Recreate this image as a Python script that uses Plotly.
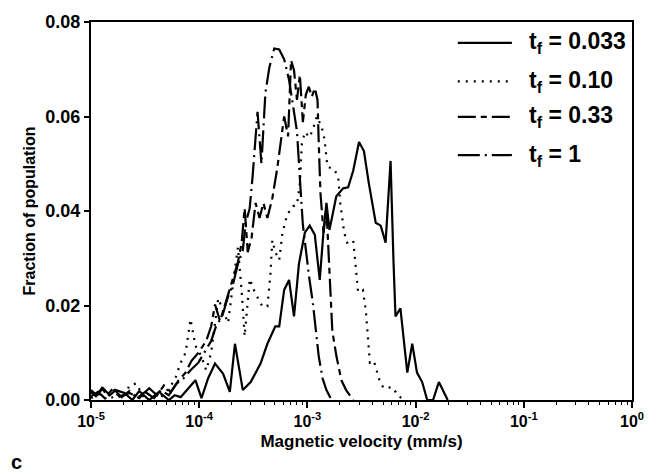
import plotly.graph_objects as go

# ---- data (velocity in mm/s, fraction of population) ----
v_033 = [1.00e-5, 1.13e-5, 1.29e-5, 1.49e-5, 1.69e-5, 2.04e-5, 2.41e-5, 2.79e-5, 3.45e-5, 4.25e-5,
         5.24e-5, 5.94e-5, 6.74e-5, 7.97e-5, 9.23e-5, 1.05e-4, 1.21e-4, 1.40e-4, 1.66e-4, 1.92e-4,
         2.14e-4, 2.53e-4, 2.99e-4, 3.69e-4, 4.27e-4, 5.05e-4, 5.49e-4, 6.10e-4, 6.77e-4, 7.52e-4,
         8.35e-4, 9.47e-4, 1.05e-3, 1.17e-3, 1.30e-3, 1.41e-3, 1.50e-3, 1.60e-3, 1.85e-3, 2.14e-3,
         2.38e-3, 2.65e-3, 3.00e-3, 3.33e-3, 3.70e-3, 4.28e-3, 4.76e-3, 5.28e-3, 5.87e-3, 6.25e-3,
         6.52e-3, 7.24e-3, 8.38e-3, 9.31e-3, 1.03e-2, 1.15e-2, 1.28e-2, 1.45e-2, 1.64e-2, 1.98e-2]
f_033 = [0.0021, 0.0010, 0.0025, 0.0010, 0.0021, 0.0015, 0.0, 0.0019, 0.0, 0.0017,
         0.0, 0.0010, 0.0006, 0.0025, 0.0042, 0.0004, 0.0046, 0.0077, 0.0056, 0.0017,
         0.0119, 0.0021, 0.0038, 0.0077, 0.0119, 0.0156, 0.0156, 0.0233, 0.0254, 0.0177,
         0.0288, 0.0354, 0.0369, 0.0350, 0.0254, 0.0358, 0.0417, 0.0360, 0.0431, 0.0448,
         0.0450, 0.0485, 0.0546, 0.0527, 0.0458, 0.0375, 0.0369, 0.0333, 0.0506, 0.0292,
         0.0177, 0.0194, 0.0058, 0.0119, 0.0058, 0.0038, 0.0, 0.0, 0.0038, 0.0]

v_010 = [1.00e-5, 1.21e-5, 1.43e-5, 1.69e-5, 2.00e-5, 2.27e-5, 2.62e-5, 3.10e-5, 3.67e-5, 4.43e-5,
         5.24e-5, 5.94e-5, 6.74e-5, 7.49e-5, 8.31e-5, 9.23e-5, 1.05e-4, 1.16e-4, 1.29e-4, 1.50e-4,
         1.63e-4, 1.85e-4, 2.09e-4, 2.28e-4, 2.47e-4, 2.63e-4, 2.81e-4, 2.93e-4, 3.25e-4, 3.84e-4,
         4.27e-4, 4.55e-4, 4.74e-4, 5.05e-4, 5.49e-4, 5.85e-4, 6.49e-4, 7.36e-4, 8.01e-4, 8.52e-4,
         8.89e-4, 9.47e-4, 1.05e-3, 1.14e-3, 1.22e-3, 1.35e-3, 1.44e-3, 1.53e-3, 1.78e-3, 1.93e-3,
         2.01e-3, 2.10e-3, 2.19e-3, 2.33e-3, 2.65e-3, 2.76e-3, 2.94e-3, 3.26e-3, 3.47e-3, 3.62e-3,
         3.78e-3, 4.11e-3, 4.38e-3, 4.66e-3, 5.07e-3, 6.12e-3, 6.94e-3, 8.04e-3]
f_010 = [0.0004, 0.0013, 0.0, 0.0010, 0.0004, 0.0031, 0.0035, 0.0004, 0.0017, 0.0006,
         0.0025, 0.0042, 0.0079, 0.0100, 0.0171, 0.0115, 0.0092, 0.0063, 0.0100, 0.0215,
         0.0194, 0.0163, 0.0260, 0.0323, 0.0229, 0.0135, 0.0208, 0.0256, 0.0229, 0.0198,
         0.0198, 0.0265, 0.0338, 0.0313, 0.0296, 0.0350, 0.0392, 0.0410, 0.0413, 0.0458,
         0.0542, 0.0567, 0.0556, 0.0577, 0.0600, 0.0579, 0.0552, 0.0494, 0.0488, 0.0469,
         0.0417, 0.0385, 0.0354, 0.0333, 0.0338, 0.0296, 0.0229, 0.0233, 0.0188, 0.0135,
         0.0079, 0.0083, 0.0058, 0.0040, 0.0025, 0.0027, 0.0008, 0.0]

v_033b = [1.00e-5, 1.16e-5, 1.34e-5, 1.55e-5, 1.84e-5, 2.27e-5, 2.79e-5, 3.45e-5, 4.08e-5, 4.72e-5,
          5.47e-5, 6.47e-5, 7.49e-5, 8.49e-5, 9.83e-5, 1.16e-4, 1.29e-4, 1.40e-4, 1.56e-4, 1.85e-4,
          2.09e-4, 2.28e-4, 2.47e-4, 2.63e-4, 2.81e-4, 3.05e-4, 3.32e-4, 3.61e-4, 3.92e-4, 4.27e-4,
          4.74e-4, 5.26e-4, 6.10e-4, 6.63e-4, 7.06e-4, 7.52e-4, 8.01e-4, 8.52e-4, 9.08e-4, 9.67e-4,
          1.03e-3, 1.10e-3, 1.17e-3, 1.24e-3, 1.27e-3, 1.32e-3, 1.41e-3, 1.50e-3, 1.60e-3, 1.70e-3,
          1.85e-3, 2.06e-3, 2.28e-3, 2.65e-3]
f_033b = [0.0008, 0.0017, 0.0004, 0.0021, 0.0008, 0.0015, 0.0004, 0.0025, 0.0010, 0.0031,
          0.0017, 0.0042, 0.0058, 0.0083, 0.0100, 0.0125, 0.0156, 0.0202, 0.0167, 0.0223,
          0.0260, 0.0292, 0.0333, 0.0406, 0.0313, 0.0344, 0.0417, 0.0385, 0.0417, 0.0385,
          0.0427, 0.0490, 0.0600, 0.0558, 0.0719, 0.0698, 0.0635, 0.0688, 0.0588, 0.0646,
          0.0663, 0.0642, 0.0660, 0.0635, 0.0552, 0.0438, 0.0354, 0.0406, 0.0271, 0.0146,
          0.0094, 0.0042, 0.0021, 0.0]

v_1 = [1.00e-5, 1.11e-5, 1.26e-5, 1.43e-5, 1.65e-5, 1.92e-5, 2.27e-5, 2.68e-5, 3.17e-5, 3.83e-5,
       4.43e-5, 5.24e-5, 6.20e-5, 7.18e-5, 8.31e-5, 9.83e-5, 1.14e-4, 1.29e-4, 1.43e-4, 1.63e-4,
       1.85e-4, 2.05e-4, 2.28e-4, 2.53e-4, 2.69e-4, 2.93e-4, 3.12e-4, 3.32e-4, 3.46e-4, 3.76e-4,
       4.09e-4, 4.45e-4, 4.94e-4, 5.49e-4, 6.10e-4, 6.77e-4, 7.52e-4, 8.01e-4, 8.52e-4, 9.08e-4,
       9.87e-4, 1.03e-3, 1.12e-3, 1.22e-3, 1.27e-3, 1.38e-3, 1.50e-3, 1.67e-3]
f_1 = [0.0017, 0.0008, 0.0025, 0.0008, 0.0021, 0.0006, 0.0019, 0.0004, 0.0017, 0.0004,
       0.0021, 0.0010, 0.0035, 0.0046, 0.0063, 0.0079, 0.0104, 0.0125, 0.0156, 0.0177,
       0.0219, 0.0244, 0.0288, 0.0317, 0.0375, 0.0406, 0.0475, 0.0567, 0.0610, 0.0500,
       0.0650, 0.0704, 0.0744, 0.0742, 0.0721, 0.0677, 0.0608, 0.0569, 0.0469, 0.0371,
       0.0302, 0.0265, 0.0208, 0.0129, 0.0094, 0.0046, 0.0021, 0.0]

series_names = ["t<sub>f</sub> = 0.033", "t<sub>f</sub> = 0.10", "t<sub>f</sub> = 0.33", "t<sub>f</sub> = 1"]
x_tick_vals = [1e-5, 1e-4, 1e-3, 1e-2, 1e-1, 1]
x_tick_text = ["10<sup>-5</sup>", "10<sup>-4</sup>", "10<sup>-3</sup>", "10<sup>-2</sup>",
               "10<sup>-1</sup>", "10<sup>0</sup>"]
y_tick_vals = [0.0, 0.02, 0.04, 0.06, 0.08]
y_tick_text = ["0.00", "0.02", "0.04", "0.06", "0.08"]

FONT = "Liberation Sans, Arial, sans-serif"

styles = [
    dict(color="black", width=2.2, dash="solid"),
    dict(color="black", width=2.2, dash="2px,6px"),
    dict(color="black", width=2.2, dash="18px,5px,6px,5px"),
    dict(color="black", width=2.2, dash="22px,5px,2px,5px"),
]

fig = go.Figure()
for name, xs, ys, st in zip(series_names, [v_033, v_010, v_033b, v_1],
                            [f_033, f_010, f_033b, f_1], styles):
    fig.add_trace(go.Scatter(x=xs, y=ys, mode="lines", name=name, line=st, showlegend=False))

# custom legend (long sample lines as in the reference)
legend_rows = [0.945, 0.843, 0.749, 0.648]
shapes = []
annotations = []
for name, st, yr in zip(series_names, styles, legend_rows):
    shapes.append(dict(type="line", xref="paper", yref="paper", x0=0.678, x1=0.778, y0=yr, y1=yr,
                       line=dict(color="black", width=2.2, dash=st["dash"])))
    annotations.append(dict(text="<b>" + name + "</b>", xref="paper", yref="paper",
                            x=0.806, y=yr, xanchor="left", yanchor="middle", showarrow=False,
                            font=dict(family=FONT, size=23, color="black")))
annotations.append(dict(text="<b>c</b>", x=0, y=0, xref="paper", yref="paper",
                        xanchor="left", yanchor="middle",
                        xshift=-82, yshift=-62, showarrow=False,
                        font=dict(family=FONT, size=20, color="black")))

minor_vals = [k * 10.0 ** e for e in range(-5, 0) for k in range(2, 10)]

fig.update_layout(
    width=656, height=474,
    margin=dict(l=91, r=16, t=16, b=74),
    paper_bgcolor="white", plot_bgcolor="white",
    font=dict(family=FONT, color="black"),
    showlegend=False,
    shapes=shapes,
    annotations=annotations,
    xaxis=dict(type="log", range=[-5, 0], tickmode="array", tickvals=x_tick_vals,
               ticktext=["<b>" + t + "</b>" for t in x_tick_text],
               ticks="outside", ticklen=6, tickwidth=1.5, tickcolor="black",
               showline=True, linecolor="black", linewidth=2, mirror=True,
               showgrid=False, zeroline=False,
               tickfont=dict(family=FONT, size=16, color="black"),
               minor=dict(tickmode="array", tickvals=minor_vals, ticks="outside",
                          ticklen=3, tickwidth=1, tickcolor="black", showgrid=False),
               title=dict(text="<b>Magnetic velocity (mm/s)</b>",
                          font=dict(family=FONT, size=17, color="black"), standoff=6)),
    yaxis=dict(range=[0, 0.08], tickmode="array", tickvals=y_tick_vals,
               ticktext=["<b>" + t + "</b>" for t in y_tick_text],
               ticks="outside", ticklen=5, tickwidth=1.5, tickcolor="black",
               showline=True, linecolor="black", linewidth=2, mirror=True,
               showgrid=False, zeroline=False,
               tickfont=dict(family=FONT, size=18, color="black"),
               title=dict(text="<b>Fraction of population</b>",
                          font=dict(family=FONT, size=16, color="black"), standoff=6)),
)

fig.write_html("out.html")
